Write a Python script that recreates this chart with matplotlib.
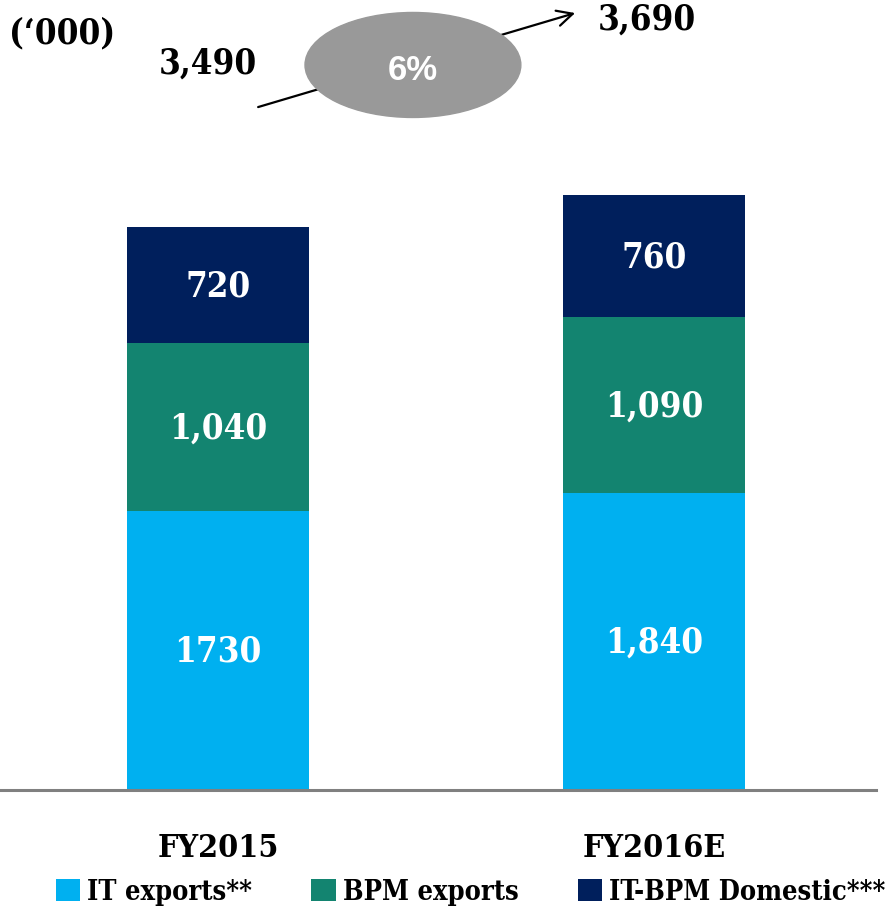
import matplotlib
matplotlib.use("Agg")
import matplotlib.pyplot as plt
from matplotlib.patches import Ellipse

years = ["FY2015", "FY2016E"]
series = ["IT exports**", "BPM exports", "IT-BPM Domestic***"]
it_exports = [1730, 1840]
bpm_exports = [1040, 1090]
domestic = [720, 760]
seg_labels = [["1730", "1,840"], ["1,040", "1,090"], ["720", "760"]]
totals = ["3,490", "3,690"]
growth = "6%"
colors = ["#00B0F0", "#138470", "#001F5C"]

serif = dict(family="DejaVu Serif", stretch="condensed", weight="bold")

fig = plt.figure(figsize=(8.9, 9.12), dpi=100)
ax = fig.add_axes([0, 0.1327, 876 / 890, 1 - 0.1327])

x = range(len(years))
bottom = [0, 0]
for vals, col, name, labs in zip([it_exports, bpm_exports, domestic], colors, series, seg_labels):
    bars = ax.bar(x, vals, width=0.417, bottom=bottom, color=col, label=name)
    ax.bar_label(bars, labels=labs, label_type="center", color="white",
                 fontsize=25, **serif)
    bottom = [b + v for b, v in zip(bottom, vals)]

ax.set_xlim(-0.5, 1.509)
ax.set_ylim(0, 4904)

for s in ["top", "left", "right"]:
    ax.spines[s].set_visible(False)
ax.spines["bottom"].set_color("#808080")
ax.spines["bottom"].set_linewidth(2.2)
ax.set_yticks([])
ax.set_xticks(list(x))
ax.set_xticklabels(years, fontsize=23, **serif)
ax.tick_params(axis="x", length=0, pad=30)

# growth arrow and bubble
ax.annotate("", xy=(0.819, 4817), xytext=(0.092, 4234),
            arrowprops=dict(arrowstyle="->", color="black", lw=1.6,
                            mutation_scale=28, shrinkA=0, shrinkB=0))
ax.add_patch(Ellipse((0.447, 4495), 0.495, 651, color="#999999", zorder=3))
ax.text(0.447, 4470, growth, ha="center", va="center", color="white",
        fontsize=25, family="Liberation Sans", weight="bold", zorder=4)

ax.text(-0.023, 4513, totals[0], ha="center", va="center", fontsize=25, **serif)
ax.text(0.984, 4780, totals[1], ha="center", va="center", fontsize=25, **serif)
fig.text(62 / 890, 1 - 33 / 912, "(\u2018000)", ha="center", va="center",
         fontsize=25, **serif)

leg = fig.legend(loc="center", bbox_to_anchor=(0.5287, 0.021), ncol=3,
                 frameon=False, handlelength=0.9, handleheight=0.9,
                 handletextpad=0.25, columnspacing=2.2, borderpad=0,
                 prop=dict(size=19.5, **serif))

fig.savefig("out.png", dpi=100)
